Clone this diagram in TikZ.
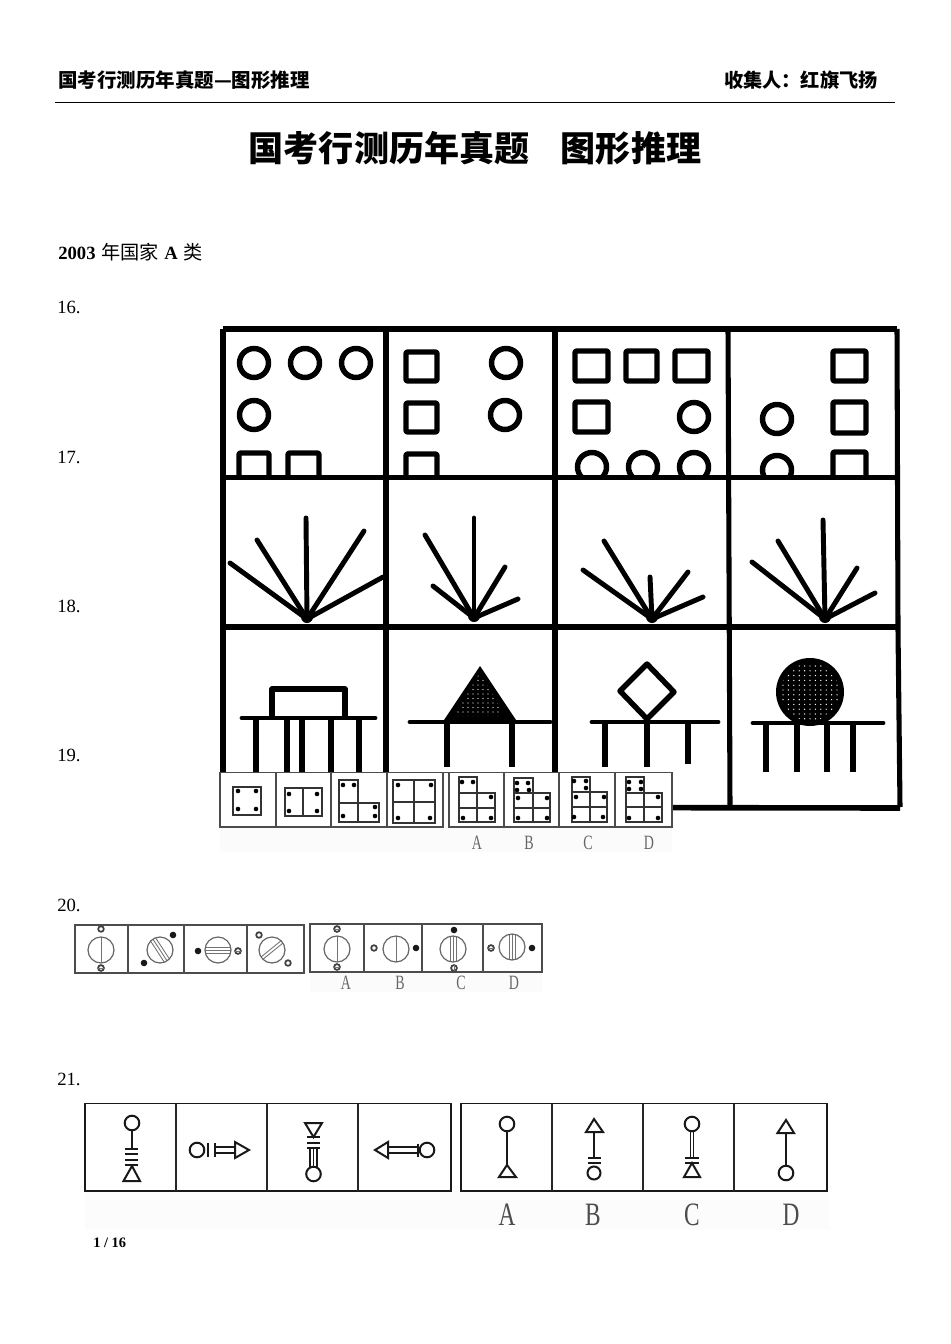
\documentclass[tikz,border=0pt]{standalone}
\usepackage{fontspec}
\setmainfont{Liberation Serif}
\newfontfamily\cjk{Noto Sans CJK SC}
\newcommand{\fs}[1]{\fontsize{#1}{#1}\selectfont}
\newcommand{\tcirc}[2]{\draw[hb] (#1,#2) circle[radius=14.5];}
\newcommand{\tsq}[4]{\draw[hb,rounded corners=1pt] (#1,#2) rectangle (#3,#4);}
\newcommand{\screwx}[4]{%
  \begin{scope}[shift={(#1,#2)},rotate=#3]
    \clip (0,0) circle[radius=13];
    \foreach \oo in {#4}{\draw[grl] (\oo,-14) -- (\oo,14);}
  \end{scope}
  \draw[grc] (#1,#2) circle[radius=13];}
\newcommand{\ringw}[2]{\draw[ring] (#1,#2) circle[radius=2.8];}
\newcommand{\ringh}[2]{\draw[ring] (#1,#2) circle[radius=2.9]; \draw[grl,line width=.7pt] (#1-3,#2) -- (#1+3,#2);}
\newcommand{\ringv}[2]{\draw[ring] (#1,#2) circle[radius=2.9]; \draw[grl,line width=.7pt] (#1,#2-3) -- (#1,#2+3);}
\newcommand{\dotb}[2]{\fill[black!90] (#1,#2) circle[radius=3.3];}
\newcommand{\bdots}[1]{\foreach \aa/\bb in {#1}{\fill[black] (\aa,\bb) circle[radius=2.3];}}
\begin{document}
\begin{tikzpicture}[x=.75pt,y=-.75pt,
  hb/.style={line width=4.1pt,black,line join=round},
  leg/.style={line width=4pt,black},
  fr/.style={line width=3.8pt,black,line cap=square},
  fan/.style={line width=3.7pt,black,line cap=round},
  cell/.style={line width=1.05pt,black!70},
  ln/.style={line width=1.05pt,black!80},
  grl/.style={line width=.65pt,black!55},
  grc/.style={line width=.9pt,black!60},
  ring/.style={line width=1.3pt,black!75,fill=white},
  sy/.style={line width=1.5pt,black!90},
  lab/.style={inner sep=0pt,anchor=west,text=black},
  num/.style={lab,font=\fs{14pt}},
  lt/.style={inner sep=0pt,text=black!60,yscale=1.45,font=\fs{10.5pt}},
  ltb/.style={inner sep=0pt,text=black!70,yscale=1.4,font=\fs{17.5pt}},
]
\useasboundingbox (0,0) rectangle (950,1344);
\fill[white] (0,0) rectangle (950,1344);

% header
\node[lab] (hl) at (58,80) {\cjk\bfseries\fs{14.6pt}国考行测历年真题—图形推理};
\node[lab,anchor=east] (hr) at (878,80) {\cjk\bfseries\fs{14.4pt}收集人：红旗飞扬};
\draw[line width=1.2pt] (55,102.5) -- (895,102.5);
\node[inner sep=0pt] (title) at (475,148) {\cjk\bfseries\fs{26.3pt}国考行测历年真题\hspace{.9em}图形推理};
\node[lab] (yr) at (58,252) {\fs{14pt}\textbf{2003}\hspace{.3em}{\cjk\fs{14.4pt}年国家}\hspace{.3em}\textbf{A}\hspace{.3em}{\cjk\fs{14.4pt}类}};
\node[num] (q16) at (57,307) {16.};
\node[num] (q17) at (57,457) {17.};
\node[num] (q18) at (57,606) {18.};
\node[num] (q19) at (57,755) {19.};
\node[num] (q20) at (57,905) {20.};
\node[num] (q21) at (57,1079) {21.};
\node[lab,font=\bfseries\fs{10.8pt}] (pg) at (93,1243) {1 / 16};

% ---- big grid row 1
\begin{scope}
\clip (215,320) rectangle (910,477);
\foreach \x in {254,305,356}{\tcirc{\x}{363}}
\tcirc{254}{415}
\tsq{239}{453}{269}{490}
\tsq{288}{453}{319}{490}
\tsq{406}{352}{437}{381}
\tsq{406}{403}{437}{432}
\tsq{406}{454}{437}{490}
\tcirc{506}{363}
\tcirc{505}{415}
\tsq{575}{351}{608}{381}
\tsq{626}{351}{657}{381}
\tsq{675}{351}{708}{381}
\tsq{575}{402}{608}{432}
\tcirc{694}{417}
\foreach \x in {592,643,694}{\tcirc{\x}{467}}
\tsq{833}{351}{866}{381}
\tsq{833}{402}{866}{433}
\tsq{833}{452}{866}{490}
\tcirc{777}{419}
\tcirc{777}{470}
\end{scope}
\draw[fr] (223,329) -- (897,329);
\draw[fr] (223,329) -- (223,807);
\draw[fr] (386,329) -- (386,807);
\draw[fr] (555,329) -- (555,807);
\draw[fr] (728,329) -- (730,807);
\draw[fr] (897,329) -- (898,630) -- (900,807);
\draw[fr] (223,477.5) -- (898,477.5);
\draw[fr] (223,627) -- (898,627);
\draw[fr,line width=4.2pt] (223,807) -- (900,808);

% ---- fans
\foreach \aa/\bb in {306/518,257/540,364/531,230/563,383/577}{\draw[fan] (307,619) -- (\aa,\bb);}
\fill[black] (307,617) circle[radius=6];
\foreach \aa/\bb in {474/518,425/535,433/586,505/567,518/599}{\draw[fan] (474,618) -- (\aa,\bb);}
\fill[black] (474,616) circle[radius=6];
\foreach \aa/\bb in {650/577,604/541,583/570,688/572,703/597}{\draw[fan] (652,619) -- (\aa,\bb);}
\fill[black] (652,617) circle[radius=6];
\foreach \aa/\bb in {823/520,778/541,752/562,857/568,875/593}{\draw[fan] (825,619) -- (\aa,\bb);}
\fill[black] (825,617) circle[radius=6];

% ---- tables
\draw[fan] (242,718) -- (375,718);
\draw[hb] (272,718) -- (272,689) -- (345,689) -- (345,718);
\foreach \x in {256,287,302,331,359}{\draw[leg] (\x,718) -- (\x,775);}
\fill[black] (480,666) -- (444,720) -- (516,720) -- cycle;
\begin{scope}
\clip (480,672) -- (455,716) -- (505,716) -- cycle;
\foreach \i in {0,...,8}{\foreach \j in {0,...,9}{\fill[white] (458+\i*5,676+\j*4.5) circle[radius=.6];}}
\end{scope}
\draw[fan] (410,722) -- (550,722);
\draw[leg] (447,722) -- (447,767);
\draw[leg] (512,722) -- (512,767);
\draw[hb] (647,664) -- (620,691) -- (647,719) -- (674,692) -- cycle;
\draw[fan] (592,722) -- (718,722);
\foreach \x/\y in {605/767,647/767,688/764}{\draw[leg] (\x,722) -- (\x,\y);}
\fill[black] (810,692) circle[radius=34];
\begin{scope}
\clip (810,692) circle[radius=29];
\foreach \i in {0,...,10}{\foreach \j in {0,...,11}{\fill[white] (783+\i*5.4,666+\j*4.8) circle[radius=.7];}}
\end{scope}
\draw[fan] (753,723) -- (883,723);
\foreach \x in {766,797,827,853}{\draw[leg] (\x,723) -- (\x,772);}

% ---- Q19 strip
\fill[black!1.5] (220,827) rectangle (672,852);
\fill[white] (220,772) rectangle (672,827);
\draw[cell] (220,772.5) rectangle (443,827);
\draw[cell] (449,772.5) rectangle (672,827);
\foreach \x in {276,331,387,504,559,615}{\draw[cell] (\x,772.5) -- (\x,827);}
\draw[cell] (443,772.5) -- (449,772.5);
\draw[ln] (233,787) rectangle (261,815);
\bdots{238/791,256/791,238/809,256/809}
\draw[ln] (285,788) rectangle (322,816); \draw[ln] (303,788) -- (303,816);
\bdots{289/794,317/794,289/811,317/811}
\draw[ln] (339,780) -- (358,780) -- (358,803) -- (379,803) -- (379,822) -- (339,822) -- cycle;
\draw[ln] (339,803) -- (358,803) -- (358,822);
\bdots{343/785,354/785,343/816,375/807,375/816}
\draw[ln] (393,780) rectangle (435,823); \draw[ln] (414,780) -- (414,823); \draw[ln] (393,802) -- (435,802);
\bdots{398/785,431/785,398/818,430/818}
\draw[ln] (459,777) -- (477,777) -- (477,793) -- (495,793) -- (495,822) -- (459,822) -- cycle;
\draw[ln] (459,793) -- (477,793) -- (477,822); \draw[ln] (459,808) -- (495,808);
\bdots{462/782,473/782,491/797,463/818,491/818}
\draw[ln] (514,778) -- (533,778) -- (533,793) -- (550,793) -- (550,822) -- (514,822) -- cycle;
\draw[ln] (514,793) -- (533,793) -- (533,822); \draw[ln] (514,808) -- (550,808);
\bdots{517/783,528/783,517/790,529/790,518/798,547/798,518/818,547/818}
\draw[ln] (572,777) -- (590,777) -- (590,792) -- (607,792) -- (607,822) -- (572,822) -- cycle;
\draw[ln] (572,792) -- (590,792) -- (590,822); \draw[ln] (572,807) -- (607,807);
\bdots{574/781,586/781,586/788,576/797,604/797,574/817,603/817}
\draw[ln] (626,777) -- (644,777) -- (644,793) -- (662,793) -- (662,822) -- (626,822) -- cycle;
\draw[ln] (626,793) -- (644,793) -- (644,822); \draw[ln] (626,807) -- (662,807);
\bdots{629/782,641/782,629/789,641/789,658/797,629/818,658/818}
\node[lt] (a19) at (477,843) {A};
\node[lt] (b19) at (529,843) {B};
\node[lt] (c19) at (588,843) {C};
\node[lt] (d19) at (649,843) {D};

% ---- Q20
\fill[black!1.5] (310,973) rectangle (542,992);
\draw[cell,line width=1.3pt] (75,925) rectangle (304,973);
\foreach \x in {128,184,247}{\draw[cell,line width=1.3pt] (\x,925) -- (\x,973);}
\screwx{101}{950}{0}{0}
\ringw{101}{929} \ringh{101}{968}
\screwx{160}{950}{33}{-3,0,3}
\dotb{173}{935} \dotb{144}{963}
\screwx{218}{950}{90}{-3,0,3}
\dotb{198}{951} \ringh{238}{951}
\screwx{272}{950}{-51}{-1.5,1.5}
\ringw{259}{935} \ringw{288}{963}
\draw[cell,line width=1.3pt] (310,924) rectangle (542,972);
\foreach \x in {364,422,483}{\draw[cell,line width=1.3pt] (\x,924) -- (\x,972);}
\screwx{337}{949}{0}{0}
\ringh{337}{929} \ringh{337}{967}
\screwx{396}{949}{0}{0}
\ringw{374}{948} \dotb{416}{948}
\screwx{453}{949}{0}{-3,0,3}
\dotb{454}{930} \ringv{454}{968}
\screwx{512}{947}{0}{-3,0,3}
\ringh{491}{948} \dotb{532}{948}
\node[lt] (a20) at (346,983) {A};
\node[lt] (b20) at (400,983) {B};
\node[lt] (c20) at (461,983) {C};
\node[lt] (d20) at (514,983) {D};

% ---- Q21
\fill[black!1] (85,1191) rectangle (830,1230);
\draw[line width=1.3pt,black!90] (85,1103.5) rectangle (451,1191);
\foreach \x in {176,267,358}{\draw[line width=1.3pt,black!85] (\x,1103.5) -- (\x,1191);}
\draw[line width=1.3pt,black!90] (461,1103.5) rectangle (827,1191);
\foreach \x in {552,643,734}{\draw[line width=1.3pt,black!85] (\x,1103.5) -- (\x,1191);}
% c1
\draw[sy] (132,1123) circle[radius=7.3];
\draw[sy] (132,1130.3) -- (132,1149);
\foreach \y in {1149,1154,1160,1165}{\draw[sy] (125,\y) -- (138,\y);}
\draw[sy] (132,1166) -- (123.5,1181) -- (140,1181) -- cycle;
% c2
\draw[sy] (197,1150) circle[radius=7.3];
\draw[sy] (208,1143) -- (208,1157);
\draw[sy] (215,1143) -- (215,1157);
\draw[sy] (215,1147) -- (235,1147);
\draw[sy] (215,1153) -- (235,1153);
\draw[sy] (235,1142) -- (249,1150) -- (235,1158) -- cycle;
% c3
\draw[sy] (305,1123) -- (322,1123) -- (313.5,1137) -- cycle;
\draw[sy] (307,1137) -- (320,1137);
\draw[sy] (307,1143) -- (320,1143);
\draw[sy] (307,1147.5) -- (320,1147.5);
\foreach \x in {310,313.5,317}{\draw[sy,line width=.9pt] (\x,1147.5) -- (\x,1168);}
\draw[sy] (313.5,1174) circle[radius=7.3];
% c4
\draw[sy] (375,1150) -- (388,1142) -- (388,1158) -- cycle;
\draw[sy] (388,1147) -- (418,1147);
\draw[sy] (388,1153) -- (418,1153);
\draw[sy] (418,1143.5) -- (418,1156.5);
\draw[sy] (427,1150) circle[radius=7.3];
% A
\draw[sy] (507,1124) circle[radius=7.3];
\draw[sy] (507,1131.3) -- (507,1165);
\draw[sy] (507,1165) -- (499,1177) -- (516,1177) -- cycle;
% B
\draw[sy] (594,1119) -- (586,1132) -- (603,1132) -- cycle;
\draw[sy] (594,1132) -- (594,1158);
\draw[sy] (588,1158) -- (601,1158);
\draw[sy,line width=2.2pt] (588,1163) -- (601,1163);
\draw[sy] (594,1173) circle[radius=6.5];
% C
\draw[sy] (692,1124) circle[radius=7.3];
\draw[sy,line width=.9pt] (690.5,1131.3) -- (690.5,1158);
\draw[sy,line width=.9pt] (693.5,1131.3) -- (693.5,1158);
\draw[sy] (685,1158) -- (699,1158);
\draw[sy] (685,1163) -- (699,1163);
\draw[sy] (692,1163) -- (684,1177) -- (700,1177) -- cycle;
% D
\draw[sy] (786,1120) -- (777.5,1133) -- (794,1133) -- cycle;
\draw[sy] (786,1133) -- (786,1165.7);
\draw[sy] (786,1173) circle[radius=7.3];
\node[ltb] (a21) at (507,1215) {A};
\node[ltb] (b21) at (593,1215) {B};
\node[ltb] (c21) at (692,1215) {C};
\node[ltb] (d21) at (791,1215) {D};
\end{tikzpicture}
\end{document}
